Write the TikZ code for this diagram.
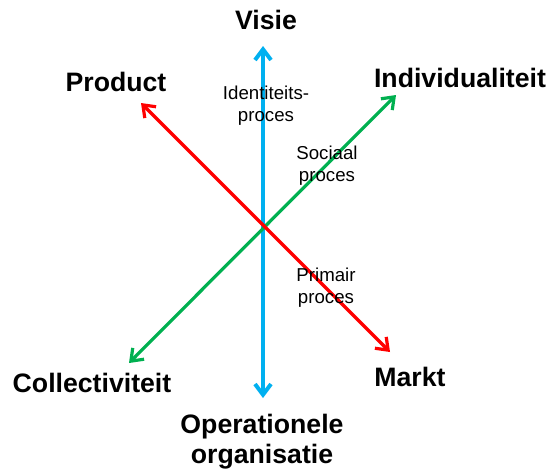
\documentclass[tikz,border=0pt]{standalone}
\usepackage{fontspec}
\setmainfont{Liberation Sans}
\usetikzlibrary{arrows.meta,positioning}
\definecolor{visieblue}{RGB}{0,176,240}
\definecolor{marktred}{RGB}{255,0,0}
\definecolor{socialgreen}{RGB}{0,176,80}

\begin{document}
\begin{tikzpicture}[x=0.75pt,y=-0.75pt,line width=2.4pt,
  axis/.style={{Straight Barb[length=8pt,width=12pt]}-{Straight Barb[length=8pt,width=12pt]}},
  pole/.style={font=\fontsize{20}{22.5}\selectfont\bfseries,align=center,inner sep=0pt},
  proc/.style={font=\fontsize{14}{16.5}\selectfont,align=center,inner sep=0pt}]

  \useasboundingbox (0,0) rectangle (549,472);

  % ends of the three axes
  \coordinate (vis) at (263,46);
  \coordinate (org) at (263,398);
  \coordinate (prod) at (141,103);
  \coordinate (mark) at (390,352);
  \coordinate (ind) at (396,95);
  \coordinate (col) at (129,363);

  \draw[axis,visieblue,line width=3pt] (org) -- (vis);
  \draw[axis,socialgreen] (col) -- (ind);
  \draw[axis,marktred] (prod) -- (mark);

  % poles
  \node[pole] (visie) at (266,20) {Visie};
  \node[pole] (product) at (116,82) {Product};
  \node[pole] (indiv) at (460,78) {Individualiteit};
  \node[pole] (collect) at (92,383) {Collectiviteit};
  \node[pole] (markt) at (410,377) {Markt};
  \node[pole] (opera) at (262,442) {Operationele\\organisatie};

  % processes
  \node[proc] (ident) at (266,106) {Identiteits-\\proces};
  \node[proc] (sociaal) at (327,166) {Sociaal\\proces};
  \node[proc] (primair) at (326,288) {Primair\\proces};

\end{tikzpicture}
\end{document}
